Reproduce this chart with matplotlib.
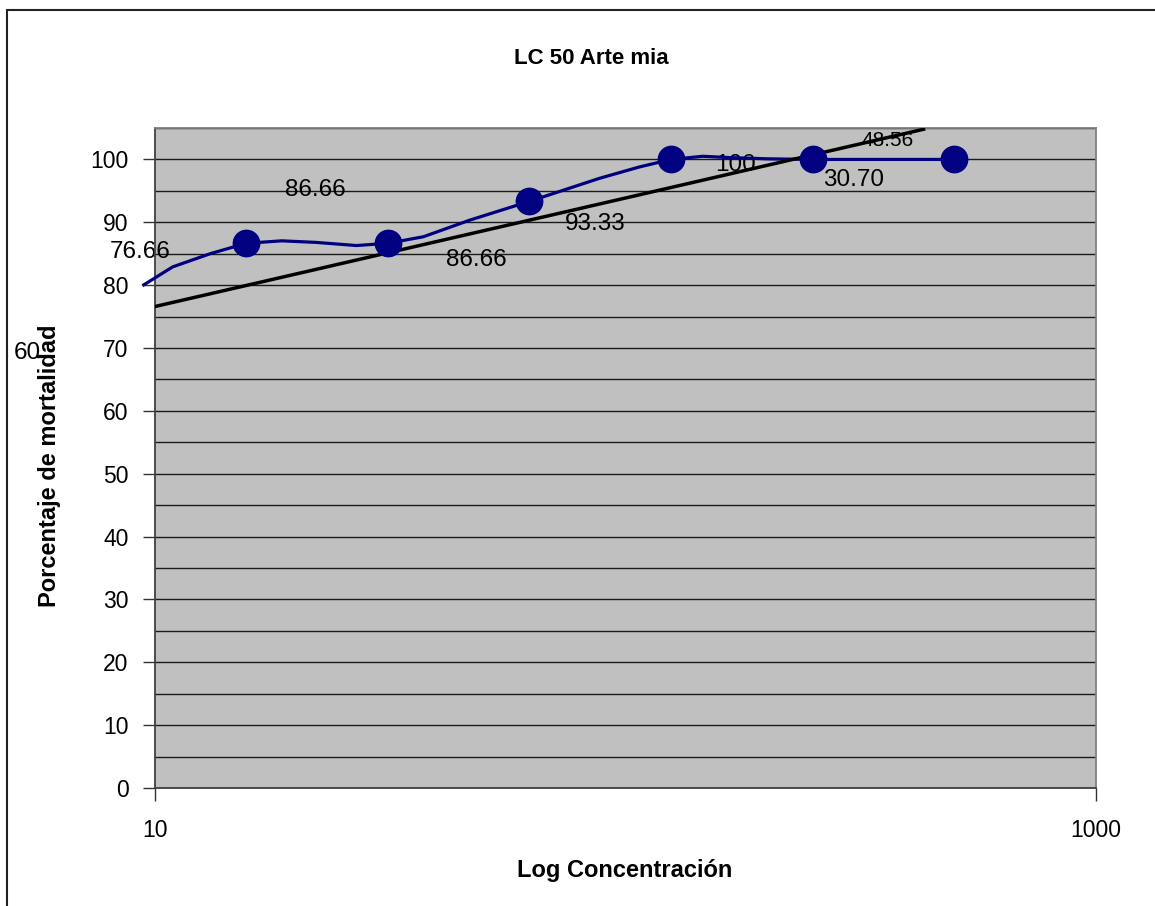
import matplotlib
matplotlib.use('Agg')

import matplotlib.pyplot as plt
from matplotlib.ticker import MultipleLocator, NullLocator, FixedLocator, FixedFormatter
from matplotlib.patches import Rectangle

# Concentración (escala log) y mortalidad medida
conc = [15.625, 31.25, 62.5, 125, 250, 500]
mort = [86.66, 86.66, 93.33, 100, 100, 100]

# Línea suavizada de la serie
curve_x = [9.4, 10.9, 13.1, 15.625, 18.6, 22.0, 26.8, 31.25, 37.2, 42.3, 46.7,
           62.5, 88.1, 107, 125, 146, 166, 200, 250, 500]
curve_y = [79.9, 82.9, 85.0, 86.66, 87.05, 86.8, 86.3, 86.66, 87.7, 89.2, 90.35,
           93.33, 97.0, 98.8, 100, 100.5, 100.3, 100.1, 100, 100]

# Línea de tendencia logarítmica
trend_x = [10, 430]
trend_y = [76.6, 104.8]

# Rótulos de datos
label_text = ['76.66', '86.66', '86.66', '93.33', '100', '30.70', '48.56', '60']
label_pos = [(9.3, 85.3), (21.9, 95.1), (48.3, 84.0), (86.3, 89.7),
             (171, 99.1), (306, 96.8), (360, 103.0), (5.35, 69.2)]
label_size = [17.5, 17.5, 17.5, 17.5, 17.5, 17.5, 15, 17.5]

plt.rcParams['font.family'] = ['Liberation Sans', 'DejaVu Sans']

W, H = 1155, 906
fig = plt.figure(figsize=(W / 100, H / 100), dpi=100)
fig.patch.set_facecolor('white')

# marco del gráfico
fig.patches.append(Rectangle((7 / W, -0.05), 1.2, 1 - 10 / H + 0.05,
                             transform=fig.transFigure, fill=False,
                             edgecolor='#222222', linewidth=1.5))

ax = fig.add_axes([155 / W, 1 - 788 / H, (1096 - 155) / W, (788 - 128) / H])
ax.set_facecolor('#c0c0c0')
ax.set_xscale('log')
ax.set_xlim(10, 1000)
ax.set_ylim(0, 105)

# líneas horizontales cada 5
ax.yaxis.set_major_locator(MultipleLocator(10))
ax.yaxis.set_minor_locator(MultipleLocator(5))
ax.grid(True, which='both', axis='y', color='#1a1a1a', linewidth=1.0, zorder=0)
ax.set_axisbelow(True)
ax.tick_params(axis='y', which='minor', length=0)
ax.tick_params(axis='y', which='major', length=9, width=1, color='#333333',
               pad=10, labelsize=16.5)

ax.xaxis.set_major_locator(FixedLocator([10, 1000]))
ax.xaxis.set_major_formatter(FixedFormatter(['10', '1000']))
ax.xaxis.set_minor_locator(NullLocator())
ax.tick_params(axis='x', which='major', length=9, width=1, color='#333333',
               pad=13, labelsize=16.5)

for side in ['top', 'right']:
    ax.spines[side].set_color('#808080')
    ax.spines[side].set_linewidth(1.3)
for side in ['left', 'bottom']:
    ax.spines[side].set_color('#404040')
    ax.spines[side].set_linewidth(1.3)

for txt, (lx, ly), fs in zip(label_text, label_pos, label_size):
    ax.text(lx, ly, txt, fontsize=fs, ha='center', va='center',
            color='black', zorder=2, clip_on=False)

ax.plot(curve_x, curve_y, color='#000080', linewidth=2.3, zorder=3,
        clip_on=False, solid_capstyle='butt')
ax.plot(trend_x, trend_y, color='black', linewidth=2.5, zorder=4)
ax.plot(conc, mort, linestyle='none', marker='o', markersize=19,
        markerfacecolor='#000080', markeredgecolor='#000080', zorder=5,
        clip_on=False)

fig.text(591 / W, 1 - 58 / H, 'LC 50 Arte mia', fontsize=16, fontweight='bold',
         ha='center', va='center')
fig.text(625 / W, 1 - 871 / H, 'Log Concentración', fontsize=17,
         fontweight='bold', ha='center', va='center')
fig.text(50 / W, 1 - 466 / H, 'Porcentaje de mortalidad', fontsize=17,
         fontweight='bold', ha='center', va='center', rotation=90)

plt.savefig('out.png', dpi=100)
plt.close()
